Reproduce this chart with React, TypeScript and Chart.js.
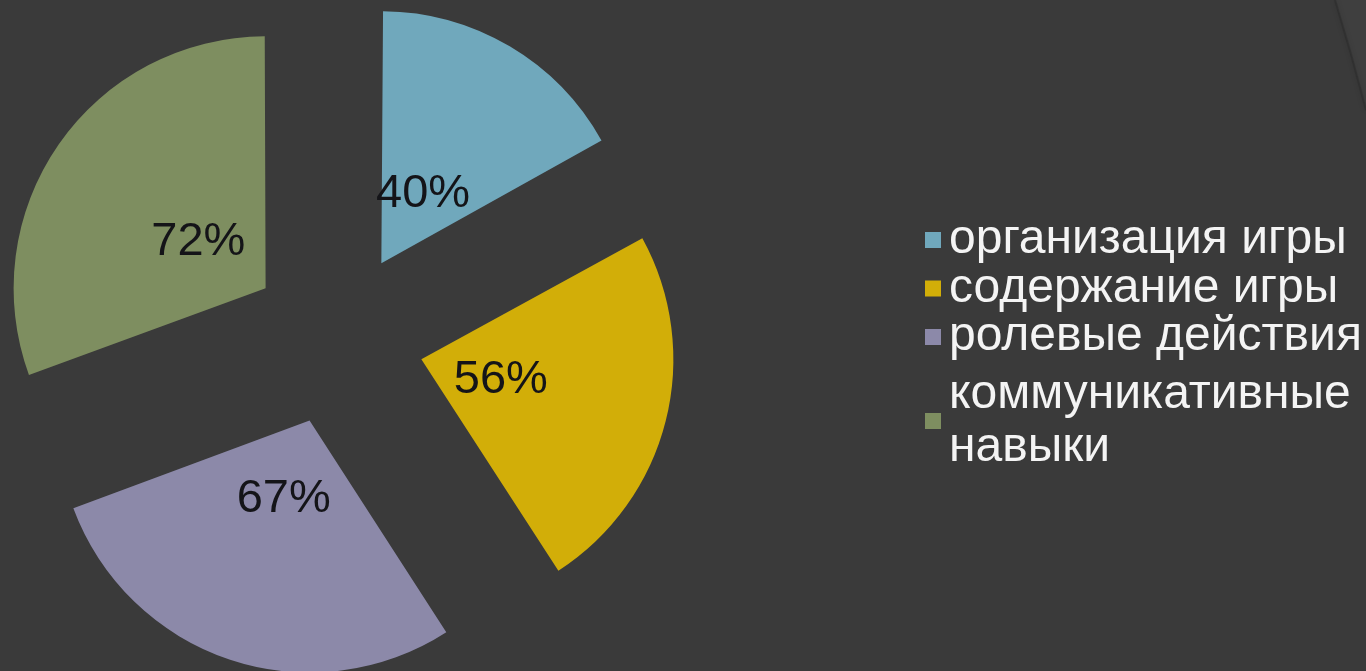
import React, { useEffect, useRef } from "react";
import { Chart, registerables } from "chart.js";

Chart.register(...registerables);

// ---- data ----
const categories = ["организация игры", "содержание игры", "ролевые действия", "коммуникативные навыки"];
const legendLines = [["организация игры"], ["содержание игры"], ["ролевые действия"], ["коммуникативные", "навыки"]];
const values = [40, 56, 67, 72];
const colors = ["#70A8BC", "#D2AE08", "#8C89A9", "#7E8E60"];

// ---- layout / style ----
const W = 1366;
const H = 671;
const CX = 337;
const CY = 338;
const R = 252;
const EXPLODE = 87;
const LABEL_DIST = 82;
const BG = "#3a3a3a";
const FONT = '"Liberation Sans", Arial, sans-serif';

const backgroundPlugin = {
  id: "bgDeco",
  beforeDraw(chart: any) {
    const ctx = chart.ctx;
    ctx.save();
    ctx.fillStyle = BG;
    ctx.fillRect(0, 0, chart.width, chart.height);
    // page-curl decoration at top right
    ctx.beginPath();
    ctx.moveTo(1335, 0);
    ctx.quadraticCurveTo(1352, 55, 1366, 110);
    ctx.lineTo(1366, 0);
    ctx.closePath();
    ctx.fillStyle = "#3f3f3f";
    ctx.fill();
    ctx.beginPath();
    ctx.moveTo(1335, 0);
    ctx.quadraticCurveTo(1352, 55, 1366, 110);
    ctx.strokeStyle = "rgba(40,40,40,0.45)";
    ctx.lineWidth = 2;
    ctx.shadowColor = "rgba(0,0,0,0.35)";
    ctx.shadowBlur = 5;
    ctx.stroke();
    ctx.restore();
  },
};

const radiusFixPlugin = {
  id: "radiusFix",
  beforeDatasetsDraw(chart: any) {
    const meta = chart.getDatasetMeta(0);
    meta.data.forEach((arc: any) => {
      const fix = 1 - Math.sin(Math.min(Math.PI, arc.circumference || 0));
      arc.outerRadius = R - EXPLODE * fix;
    });
  },
};

const labelPlugin = {
  id: "sliceLabels",
  afterDatasetsDraw(chart: any) {
    const ctx = chart.ctx;
    const meta = chart.getDatasetMeta(0);
    ctx.save();
    ctx.font = `47px ${FONT}`;
    ctx.textAlign = "center";
    ctx.textBaseline = "middle";
    ctx.fillStyle = "#141418";
    meta.data.forEach((arc: any, i: number) => {
      const mid = (arc.startAngle + arc.endAngle) / 2;
      const d = EXPLODE + LABEL_DIST;
      ctx.fillText(`${values[i]}%`, arc.x + Math.cos(mid) * d, arc.y + Math.sin(mid) * d + 1);
    });
    ctx.restore();
  },
};

const legendPlugin = {
  id: "sideLegend",
  afterDraw(chart: any) {
    const ctx = chart.ctx;
    const boxX = 925;
    const box = 16;
    const textX = 949;
    const rowStep = 48.5;
    const lineStep = 53;
    const extraGap = 9;
    let y = 240;
    ctx.save();
    ctx.font = `48px ${FONT}`;
    ctx.textAlign = "left";
    ctx.textBaseline = "middle";
    legendLines.forEach((lines, i) => {
      const n = lines.length;
      if (n > 1) y += extraGap;
      const centerY = y + ((n - 1) * lineStep) / 2;
      ctx.fillStyle = colors[i];
      ctx.fillRect(boxX, centerY - box / 2, box, box);
      ctx.fillStyle = "#f4f4f4";
      lines.forEach((t, j) => ctx.fillText(t, textX, y + j * lineStep));
      y += (n - 1) * lineStep + rowStep;
    });
    ctx.restore();
  },
};

export default function App() {
  const ref = useRef<HTMLCanvasElement | null>(null);
  useEffect(() => {
    if (!ref.current) return;
    const chart = new Chart(ref.current, {
      type: "pie",
      data: {
        labels: categories,
        datasets: [
          {
            data: values,
            backgroundColor: colors,
            borderWidth: 0,
            offset: EXPLODE * 4,
          },
        ],
      },
      options: {
        responsive: false,
        animation: false,
        devicePixelRatio: 1,
        radius: R,
        layout: { padding: { left: 0, top: 2 * CY - H, right: W - 2 * CX, bottom: 0 } },
        plugins: { legend: { display: false }, tooltip: { enabled: false } },
      } as any,
      plugins: [backgroundPlugin, radiusFixPlugin, labelPlugin, legendPlugin],
    });
    return () => chart.destroy();
  }, []);
  return (
    <div style={{ position: "fixed", left: 0, top: 0, width: W, height: H, background: BG }}>
      <canvas ref={ref} width={W} height={H} style={{ width: W, height: H, display: "block" }} />
    </div>
  );
}
